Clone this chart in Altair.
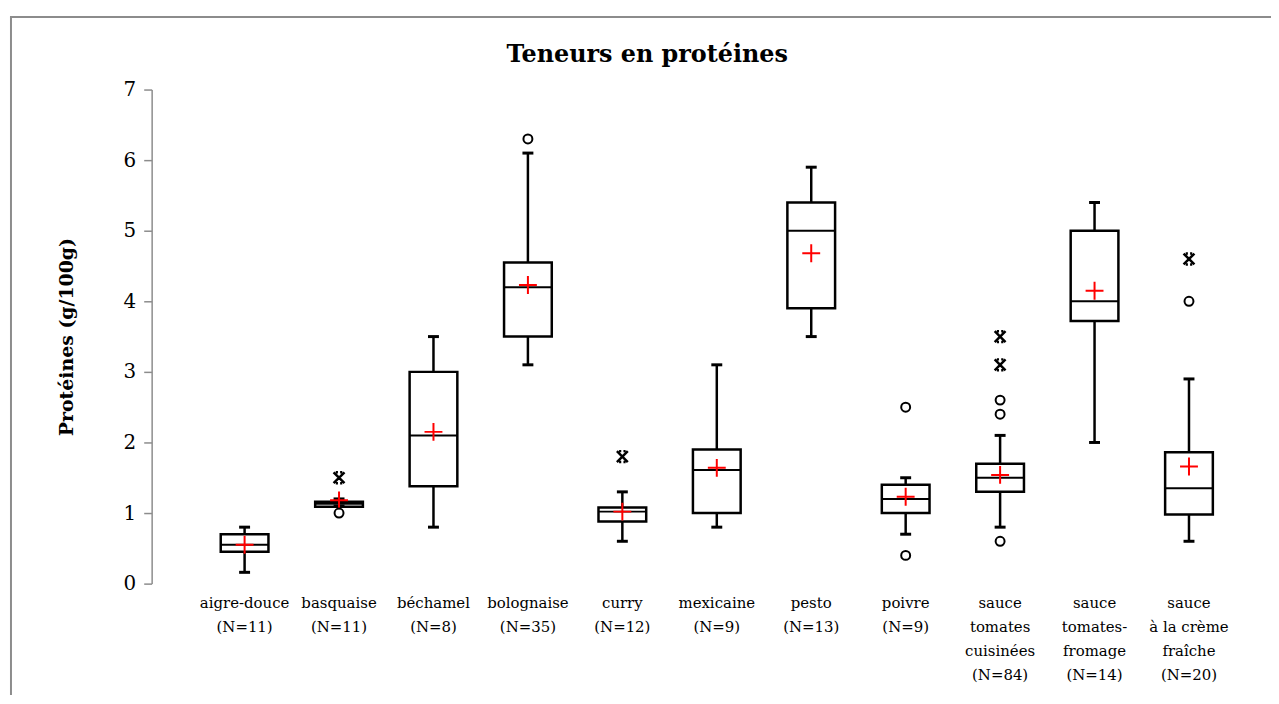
import altair as alt
import pandas as pd

# ---- data ----
categories = ["aigre-douce", "basquaise", "béchamel", "bolognaise", "curry", "mexicaine",
              "pesto", "poivre", "sauce|tomates|cuisinées", "sauce|tomates-|fromage",
              "sauce|à la crème|fraîche"]
n_obs = [11, 11, 8, 35, 12, 9, 13, 9, 84, 14, 20]
whisker_low = [0.16, 1.10, 0.80, 3.10, 0.60, 0.80, 3.50, 0.70, 0.80, 2.00, 0.60]
q1 = [0.45, 1.09, 1.38, 3.50, 0.88, 1.00, 3.90, 1.00, 1.30, 3.72, 0.98]
median = [0.55, 1.13, 2.10, 4.20, 1.02, 1.61, 5.00, 1.20, 1.50, 4.00, 1.35]
q3 = [0.70, 1.16, 3.00, 4.55, 1.08, 1.90, 5.40, 1.40, 1.70, 5.00, 1.86]
whisker_high = [0.80, 1.20, 3.50, 6.10, 1.30, 3.10, 5.90, 1.50, 2.10, 5.40, 2.90]
means = [0.55, 1.18, 2.15, 4.23, 1.02, 1.64, 4.68, 1.23, 1.54, 4.15, 1.66]

outlier_cat = [1, 1, 3, 4, 7, 7, 8, 8, 8, 8, 8, 10, 10]
outlier_val = [1.5, 1.0, 6.3, 1.8, 2.5, 0.4, 3.5, 3.1, 2.6, 2.4, 0.6, 4.6, 4.0]
outlier_kind = ["star", "circle", "circle", "star", "circle", "circle",
                "star", "star", "circle", "circle", "circle", "star", "circle"]

chart_title = "Teneurs en protéines"
y_title = "Protéines (g/100g)"

labels = [f"{c}|(N={n})" for c, n in zip(categories, n_obs)]

df = pd.DataFrame({
    "label": labels, "lo": whisker_low, "q1": q1, "med": median,
    "q3": q3, "hi": whisker_high, "mean": means,
})
out_df = pd.DataFrame({
    "label": [labels[i] for i in outlier_cat], "val": outlier_val, "kind": outlier_kind,
})

FONT = "DejaVu Serif"
GRAY = "#8c8c8c"

x_enc = alt.X(
    "label:N", sort=labels,
    scale=alt.Scale(paddingInner=0, paddingOuter=0),
    axis=alt.Axis(title=None, labelExpr="split(datum.value, '|')", domain=False,
                  ticks=False, labelAngle=0, labelFont=FONT, labelFontSize=15,
                  labelLineHeight=24, labelPadding=12, labelColor="black",
                  labelBaseline="top"),
)
y_scale = alt.Scale(domain=[0, 7], nice=False, zero=True)
y_axis = alt.Axis(title=y_title, values=[0, 1, 2, 3, 4, 5, 6, 7],
                  grid=False, offset=46, domainColor=GRAY, domainWidth=1.5,
                  tickColor=GRAY, tickWidth=1.5, tickSize=8, labelFont=FONT,
                  labelFontSize=20, labelColor="black", labelPadding=8,
                  titleFont=FONT, titleFontSize=19, titleFontWeight="bold",
                  titleColor="black", titlePadding=47)


def Y(field):
    return alt.Y(field, type="quantitative", scale=y_scale, axis=y_axis)


base = alt.Chart(df).encode(x=x_enc)

whisk_low = base.mark_rule(color="black", strokeWidth=2.5).encode(y=Y("lo"), y2="q1")
whisk_high = base.mark_rule(color="black", strokeWidth=2.5).encode(y=Y("q3"), y2="hi")
box = base.mark_bar(size=48, fill="white", stroke="black", strokeWidth=2.5).encode(y=Y("q1"), y2="q3")
med = base.mark_tick(size=48, thickness=2, color="black", opacity=1).encode(y=Y("med"))
cap_low = base.mark_tick(size=11, thickness=3, color="black", opacity=1).encode(y=Y("lo"))
cap_high = base.mark_tick(size=11, thickness=3, color="black", opacity=1).encode(y=Y("hi"))
mean_pt = base.mark_point(shape="M-1,0L1,0M0,-1L0,1", size=324, stroke="#ff0000",
                          strokeWidth=2, filled=False, opacity=1).encode(y=Y("mean"))

out_base = alt.Chart(out_df).encode(x=x_enc, y=Y("val"))
out_circle = out_base.transform_filter(alt.datum.kind == "circle").mark_point(
    shape="circle", size=81, stroke="black", strokeWidth=2, filled=False, opacity=1)
out_star = out_base.transform_filter(alt.datum.kind == "star").mark_point(
    shape="M-1,-1L1,1M-1,1L1,-1M-0.6,-1L-0.2,-1M0.2,-1L0.6,-1M-0.6,1L-0.2,1M0.2,1L0.6,1",
    size=120, stroke="black", strokeWidth=2.5, filled=False, opacity=1)

frame_df = pd.DataFrame({"z": [0]})
frame_left = alt.Chart(frame_df).mark_rule(color=GRAY, strokeWidth=2).encode(
    x=alt.value(-187.5), y=alt.value(-73), y2=alt.value(720))
frame_top = alt.Chart(frame_df).mark_rule(color=GRAY, strokeWidth=2).encode(
    x=alt.value(-188.5), x2=alt.value(1200), y=alt.value(-73))
title_txt = alt.Chart(pd.DataFrame({"t": [chart_title]})).mark_text(
    font=FONT, fontSize=24, fontWeight="bold", color="black", align="center",
    baseline="alphabetic").encode(text="t:N", x=alt.value(452.5), y=alt.value(-28))

chart = alt.layer(
    frame_left, frame_top, title_txt, whisk_low, whisk_high, box, med, cap_low, cap_high,
    mean_pt, out_circle, out_star,
).properties(
    width=1045, height=497,
    autosize=alt.AutoSizeParams(type="none"),
    padding={"left": 190.5, "top": 80, "right": 35, "bottom": 110},
).configure(background="white").configure_view(strokeWidth=0, stroke="transparent")

chart.save("out.html", embed_options={"renderer": "svg", "actions": False})
